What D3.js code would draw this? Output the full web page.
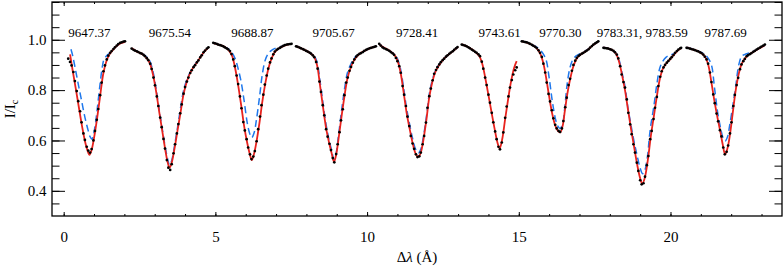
<!DOCTYPE html>
<html>
<head>
<meta charset="utf-8">
<script src="https://cdn.jsdelivr.net/npm/d3@7"></script>
<style>
  body { margin: 0; background: #fff; }
  svg { display: block; font-family: "Liberation Serif", "Times New Roman", serif; }
</style>
</head>
<body>
<div id="espectro"></div>
<script>

// line identifications and where they sit (line centre, in delta lambda)
const lineLabels = ["9647.37", "9675.54", "9688.87", "9705.67", "9728.41", "9743.61", "9770.30", "9783.31, 9783.59", "9787.69"]
const lineCenters = [0.85, 3.5, 6.22, 8.9, 11.65, 14.37, 16.37, 19.07, 21.82]

const xTicks = [0, 5, 10, 15, 20]
const yTicks = [0.4, 0.6, 0.8, 1.0]

// observed profile, one window per line  [delta lambda, I/Ic]
const obsSegments = [
  [[0.15,.925],[0.21,.912],[0.26,.898],[0.32,.872],[0.37,.836],[0.43,.796],[0.48,.756],[0.54,.716],[0.59,.672],[0.65,.628],[0.70,.602],[0.76,.575],[0.81,.56],[0.87,.552],[0.92,.566],[0.98,.60],[1.03,.638],[1.09,.682],[1.14,.725],[1.20,.78],[1.25,.83],[1.31,.875],[1.36,.898],[1.42,.922],[1.47,.937],[1.53,.948],[1.58,.955],[1.64,.963],[1.69,.97],[1.75,.977],[1.80,.983],[1.86,.988],[1.91,.99],[1.97,.993],[2.02,.994]],
  [[2.24,.965],[2.30,.96],[2.35,.957],[2.41,.954],[2.46,.951],[2.52,.947],[2.57,.945],[2.63,.94],[2.68,.935],[2.74,.927],[2.79,.919],[2.85,.905],[2.90,.884],[2.96,.85],[3.01,.819],[3.07,.775],[3.12,.737],[3.18,.691],[3.23,.653],[3.29,.606],[3.34,.568],[3.40,.522],[3.45,.492],[3.51,.483],[3.56,.506],[3.62,.549],[3.67,.585],[3.73,.628],[3.78,.665],[3.84,.708],[3.89,.743],[3.95,.786],[4.00,.812],[4.06,.834],[4.11,.85],[4.17,.868],[4.22,.879],[4.28,.891],[4.33,.899],[4.39,.91],[4.44,.918],[4.50,.93],[4.55,.938],[4.61,.95],[4.66,.957],[4.72,.965],[4.77,.97]],
  [[4.93,.988],[4.98,.986],[5.04,.984],[5.09,.981],[5.15,.979],[5.20,.977],[5.26,.974],[5.31,.97],[5.37,.966],[5.42,.962],[5.48,.955],[5.53,.943],[5.59,.922],[5.64,.895],[5.70,.858],[5.75,.824],[5.81,.775],[5.86,.728],[5.92,.673],[5.97,.64],[6.03,.605],[6.08,.572],[6.14,.545],[6.19,.526],[6.25,.536],[6.30,.558],[6.36,.597],[6.41,.645],[6.47,.695],[6.52,.74],[6.58,.782],[6.63,.822],[6.69,.858],[6.74,.885],[6.80,.91],[6.85,.926],[6.91,.942],[6.96,.953],[7.02,.96],[7.07,.964],[7.13,.968],[7.18,.972],[7.24,.976],[7.29,.979],[7.35,.981],[7.40,.982],[7.46,.983],[7.51,.984]],
  [[7.66,.974],[7.71,.972],[7.77,.969],[7.82,.966],[7.88,.963],[7.93,.96],[7.99,.956],[8.04,.953],[8.10,.949],[8.15,.945],[8.21,.938],[8.26,.931],[8.32,.912],[8.37,.885],[8.43,.834],[8.48,.793],[8.54,.74],[8.59,.70],[8.65,.645],[8.70,.615],[8.76,.587],[8.81,.562],[8.87,.53],[8.92,.513],[8.98,.546],[9.03,.585],[9.09,.633],[9.14,.68],[9.20,.724],[9.25,.78],[9.31,.83],[9.36,.85],[9.42,.877],[9.47,.892],[9.53,.909],[9.58,.922],[9.64,.933],[9.69,.939],[9.75,.944],[9.80,.947],[9.86,.951],[9.91,.956],[9.97,.96],[10.02,.963],[10.08,.966],[10.13,.968],[10.19,.97],[10.24,.972],[10.29,.974]],
  [[10.40,.984],[10.45,.977],[10.51,.97],[10.56,.966],[10.62,.963],[10.67,.96],[10.73,.956],[10.78,.951],[10.84,.946],[10.89,.94],[10.95,.928],[11.00,.915],[11.06,.895],[11.11,.869],[11.17,.816],[11.22,.782],[11.28,.737],[11.33,.695],[11.39,.657],[11.44,.618],[11.50,.588],[11.55,.567],[11.61,.545],[11.66,.534],[11.72,.537],[11.77,.552],[11.83,.585],[11.88,.618],[11.94,.671],[11.99,.73],[12.05,.776],[12.10,.806],[12.16,.839],[12.21,.865],[12.27,.88],[12.32,.891],[12.38,.902],[12.43,.911],[12.49,.919],[12.54,.925],[12.60,.933],[12.65,.938],[12.71,.944],[12.76,.949],[12.82,.954],[12.87,.96],[12.93,.966],[12.98,.971]],
  [[13.12,.981],[13.17,.979],[13.23,.977],[13.28,.974],[13.34,.97],[13.39,.966],[13.45,.961],[13.50,.957],[13.56,.952],[13.61,.948],[13.67,.942],[13.72,.935],[13.78,.913],[13.83,.885],[13.89,.85],[13.94,.82],[14.00,.782],[14.05,.75],[14.11,.71],[14.16,.672],[14.22,.636],[14.27,.605],[14.33,.575],[14.38,.565],[14.44,.592],[14.49,.632],[14.55,.69],[14.60,.735],[14.66,.775],[14.71,.81],[14.77,.84],[14.82,.862],[14.88,.879],[14.93,.89]],
  [[15.10,.994],[15.15,.993],[15.21,.991],[15.26,.99],[15.32,.987],[15.37,.984],[15.43,.98],[15.48,.976],[15.54,.972],[15.59,.967],[15.65,.958],[15.70,.948],[15.76,.932],[15.81,.905],[15.87,.87],[15.92,.83],[15.98,.785],[16.03,.755],[16.09,.72],[16.14,.688],[16.20,.662],[16.25,.648],[16.31,.638],[16.36,.634],[16.42,.648],[16.47,.677],[16.53,.732],[16.58,.77],[16.64,.82],[16.69,.845],[16.75,.877],[16.80,.9],[16.86,.917],[16.91,.928],[16.97,.936],[17.02,.94],[17.08,.945],[17.13,.948],[17.19,.953],[17.24,.957],[17.30,.962],[17.35,.969],[17.41,.975],[17.46,.981],[17.52,.986],[17.57,.99],[17.62,.994]],
  [[17.79,.968],[17.84,.967],[17.90,.966],[17.95,.965],[18.01,.962],[18.06,.96],[18.12,.956],[18.17,.95],[18.23,.941],[18.28,.926],[18.34,.895],[18.39,.862],[18.45,.832],[18.50,.81],[18.56,.763],[18.61,.71],[18.67,.664],[18.72,.625],[18.78,.585],[18.83,.552],[18.89,.512],[18.94,.479],[19.00,.442],[19.05,.426],[19.11,.43],[19.16,.456],[19.22,.502],[19.27,.538],[19.33,.605],[19.38,.638],[19.44,.685],[19.49,.73],[19.55,.773],[19.60,.816],[19.66,.853],[19.71,.875],[19.77,.89],[19.82,.9],[19.88,.909],[19.93,.916],[19.99,.924],[20.04,.931],[20.10,.939],[20.15,.948],[20.21,.955],[20.26,.961],[20.32,.966],[20.35,.968]],
  [[20.53,.968],[20.58,.967],[20.64,.965],[20.69,.963],[20.75,.961],[20.80,.959],[20.86,.956],[20.91,.954],[20.97,.95],[21.02,.947],[21.08,.941],[21.13,.933],[21.19,.922],[21.24,.905],[21.30,.87],[21.35,.832],[21.41,.783],[21.46,.748],[21.52,.707],[21.57,.676],[21.63,.641],[21.68,.616],[21.74,.572],[21.79,.545],[21.85,.555],[21.90,.58],[21.96,.628],[22.01,.672],[22.07,.737],[22.12,.781],[22.18,.82],[22.23,.849],[22.29,.883],[22.34,.902],[22.40,.915],[22.45,.924],[22.51,.935],[22.56,.939],[22.62,.943],[22.67,.947],[22.73,.952],[22.78,.956],[22.84,.961],[22.89,.965],[22.95,.969],[23.00,.973],[23.06,.977],[23.11,.981]]
]

// synthetic fit (red)
const fitSegments = [
  [[0.21,.942],[0.3,.875],[0.4,.805],[0.5,.732],[0.6,.66],[0.7,.598],[0.78,.562],[0.85,.543],[0.92,.562],[1.0,.61],[1.1,.687],[1.2,.775],[1.3,.862],[1.4,.912],[1.5,.94],[1.6,.957],[1.7,.97],[1.8,.98],[1.9,.987],[2.02,.992]],
  [[2.24,.966],[2.4,.954],[2.55,.946],[2.65,.938],[2.75,.925],[2.85,.903],[2.95,.858],[3.05,.792],[3.15,.713],[3.25,.637],[3.35,.562],[3.42,.517],[3.49,.492],[3.56,.512],[3.65,.566],[3.75,.638],[3.85,.71],[3.95,.783],[4.05,.83],[4.15,.863],[4.25,.886],[4.35,.903],[4.45,.921],[4.55,.939],[4.65,.955],[4.77,.969]],
  [[4.93,.988],[5.1,.981],[5.25,.975],[5.35,.968],[5.45,.957],[5.55,.936],[5.65,.888],[5.75,.82],[5.85,.74],[5.95,.655],[6.05,.59],[6.13,.548],[6.2,.522],[6.27,.545],[6.35,.592],[6.45,.668],[6.55,.756],[6.65,.83],[6.75,.887],[6.85,.925],[6.95,.95],[7.1,.966],[7.25,.976],[7.4,.982],[7.52,.984]],
  [[7.66,.975],[7.85,.965],[8.0,.956],[8.15,.945],[8.25,.933],[8.35,.90],[8.45,.818],[8.55,.73],[8.65,.648],[8.75,.59],[8.83,.55],[8.91,.515],[8.98,.543],[9.05,.598],[9.15,.688],[9.25,.772],[9.35,.845],[9.45,.886],[9.55,.914],[9.65,.932],[9.8,.948],[9.95,.958],[10.1,.967],[10.29,.974]],
  [[10.4,.983],[10.5,.973],[10.6,.966],[10.7,.959],[10.8,.951],[10.9,.94],[11.0,.918],[11.1,.872],[11.2,.795],[11.3,.712],[11.4,.648],[11.5,.59],[11.6,.548],[11.69,.535],[11.77,.552],[11.85,.598],[11.95,.678],[12.05,.772],[12.15,.832],[12.25,.872],[12.35,.895],[12.5,.92],[12.65,.938],[12.8,.952],[12.92,.964],[13.0,.972]],
  [[13.12,.982],[13.3,.973],[13.45,.962],[13.6,.948],[13.7,.935],[13.8,.903],[13.9,.845],[14.0,.78],[14.1,.713],[14.2,.648],[14.3,.59],[14.37,.568],[14.45,.603],[14.55,.685],[14.65,.765],[14.75,.838],[14.85,.89],[14.93,.915]],
  [[15.1,.994],[15.25,.99],[15.4,.982],[15.5,.975],[15.6,.965],[15.7,.947],[15.8,.912],[15.9,.85],[16.0,.775],[16.1,.707],[16.2,.66],[16.28,.64],[16.36,.632],[16.44,.655],[16.52,.72],[16.6,.785],[16.7,.848],[16.8,.895],[16.9,.923],[17.0,.938],[17.15,.95],[17.3,.963],[17.45,.979],[17.62,.993]],
  [[17.79,.97],[17.9,.967],[18.0,.963],[18.1,.957],[18.2,.945],[18.3,.915],[18.4,.862],[18.5,.80],[18.6,.722],[18.7,.645],[18.8,.575],[18.9,.505],[19.0,.45],[19.07,.428],[19.15,.45],[19.25,.52],[19.35,.615],[19.45,.695],[19.55,.775],[19.65,.845],[19.75,.885],[19.85,.905],[19.95,.918],[20.05,.932],[20.15,.946],[20.25,.958],[20.35,.966]],
  [[20.53,.97],[20.7,.963],[20.85,.957],[20.95,.952],[21.05,.944],[21.15,.93],[21.25,.898],[21.35,.83],[21.45,.755],[21.55,.69],[21.65,.63],[21.72,.585],[21.8,.545],[21.88,.57],[21.95,.615],[22.05,.708],[22.15,.80],[22.25,.865],[22.35,.905],[22.45,.925],[22.6,.942],[22.75,.953],[22.9,.964],[23.11,.978]]
]

// second model (blue dashed), none for the 9743.61 window
const altSegments = [
  [[0.24,.962],[0.3,.935],[0.4,.874],[0.5,.812],[0.6,.752],[0.7,.692],[0.8,.643],[0.87,.615],[0.93,.605],[0.98,.622],[1.05,.67],[1.12,.74],[1.2,.825],[1.27,.89],[1.33,.922],[1.42,.937],[1.5,.945],[1.6,.957],[1.7,.97],[1.8,.98],[1.9,.987],[2.02,.992]],
  [[2.24,.966],[2.4,.955],[2.55,.947],[2.65,.94],[2.75,.93],[2.85,.912],[2.95,.87],[3.05,.802],[3.15,.722],[3.25,.645],[3.35,.572],[3.42,.53],[3.49,.502],[3.56,.52],[3.65,.577],[3.75,.65],[3.85,.728],[3.95,.798],[4.05,.838],[4.15,.867],[4.25,.888],[4.35,.905],[4.45,.922],[4.55,.939],[4.65,.955],[4.77,.969]],
  [[4.93,.988],[5.1,.981],[5.25,.975],[5.35,.969],[5.45,.962],[5.55,.948],[5.65,.925],[5.75,.885],[5.85,.832],[5.95,.755],[6.05,.67],[6.13,.628],[6.2,.611],[6.28,.632],[6.35,.68],[6.45,.768],[6.55,.865],[6.65,.922],[6.75,.946],[6.85,.958],[6.95,.965],[7.1,.97],[7.25,.976],[7.4,.982],[7.52,.984]],
  [[7.66,.975],[7.85,.965],[8.0,.956],[8.15,.946],[8.25,.937],[8.35,.912],[8.45,.835],[8.55,.745],[8.65,.662],[8.75,.60],[8.83,.562],[8.91,.524],[8.98,.55],[9.05,.612],[9.15,.71],[9.25,.80],[9.35,.868],[9.45,.9],[9.55,.922],[9.65,.936],[9.8,.948],[9.95,.958],[10.1,.967],[10.29,.974]],
  [[10.4,.983],[10.5,.973],[10.6,.966],[10.7,.959],[10.8,.952],[10.9,.942],[11.0,.925],[11.1,.885],[11.2,.812],[11.3,.73],[11.4,.665],[11.5,.608],[11.6,.565],[11.69,.55],[11.77,.565],[11.85,.61],[11.95,.69],[12.05,.785],[12.15,.84],[12.25,.877],[12.35,.898],[12.5,.921],[12.65,.938],[12.8,.952],[12.92,.964],[13.0,.972]],
  null,
  [[15.1,.994],[15.25,.99],[15.4,.983],[15.5,.977],[15.6,.97],[15.7,.96],[15.8,.945],[15.9,.92],[16.0,.85],[16.1,.76],[16.2,.69],[16.28,.658],[16.36,.648],[16.44,.665],[16.52,.735],[16.6,.83],[16.7,.895],[16.8,.925],[16.9,.937],[17.0,.944],[17.15,.952],[17.3,.964],[17.45,.979],[17.62,.993]],
  [[17.79,.97],[17.9,.967],[18.0,.963],[18.1,.957],[18.2,.947],[18.3,.922],[18.4,.87],[18.5,.815],[18.6,.728],[18.7,.66],[18.8,.595],[18.9,.54],[19.0,.49],[19.08,.468],[19.15,.48],[19.25,.545],[19.3,.61],[19.35,.66],[19.45,.735],[19.55,.823],[19.65,.889],[19.75,.915],[19.85,.93],[19.95,.938],[20.05,.942],[20.15,.948],[20.25,.958],[20.35,.966]],
  [[20.53,.97],[20.7,.964],[20.85,.958],[20.95,.954],[21.05,.948],[21.15,.94],[21.25,.925],[21.35,.9],[21.45,.81],[21.55,.715],[21.65,.65],[21.72,.615],[21.8,.598],[21.88,.615],[21.95,.66],[22.05,.735],[22.15,.815],[22.25,.9],[22.35,.935],[22.45,.942],[22.6,.948],[22.75,.955],[22.9,.964],[23.11,.978]]
]


function drawSpectrum(container){

  const width = 784
  const height = 268
  const margin = ({top: 2, right: 2, bottom: 52, left: 52})

  const x = d3.scaleLinear()
    .domain([-0.385, 23.675])
    .range([margin.left, width - margin.right])

  const y = d3.scaleLinear()
    .domain([0.3, 1.15])
    .range([height - margin.bottom, margin.top])

  const svg = d3.select(container).append("svg")
      .attr("width", width)
      .attr("height", height)
      .attr("viewBox", [0, 0, width, height])
      .style("background", "#fff")

  const xMinor = d3.range(0, 24, 1)
  const yMinor = d3.range(0.35, 1.151, 0.05)

  // ticks go inwards on all four sides (idl style)
  const fixAxis = g => g
      .attr("font-family", null)
      .attr("font-size", 15)
      .call(g => g.select(".domain").remove())

  svg.append("g")
      .attr("transform", `translate(0,${height - margin.bottom})`)
      .call(d3.axisBottom(x).tickValues(xMinor).tickSize(-2).tickFormat(""))
      .call(fixAxis)
  svg.append("g")
      .attr("transform", `translate(0,${height - margin.bottom})`)
      .call(d3.axisBottom(x).tickValues(xTicks).tickSize(-4).tickPadding(15).tickFormat(d3.format("d")))
      .call(fixAxis)
  svg.append("g")
      .attr("transform", `translate(0,${margin.top})`)
      .call(d3.axisTop(x).tickValues(xMinor).tickSize(-2).tickFormat(""))
      .call(fixAxis)
  svg.append("g")
      .attr("transform", `translate(0,${margin.top})`)
      .call(d3.axisTop(x).tickValues(xTicks).tickSize(-4).tickFormat(""))
      .call(fixAxis)

  svg.append("g")
      .attr("transform", `translate(${margin.left},0)`)
      .call(d3.axisLeft(y).tickValues(yMinor).tickSize(-7.5).tickFormat(""))
      .call(fixAxis)
  svg.append("g")
      .attr("transform", `translate(${margin.left},0)`)
      .call(d3.axisLeft(y).tickValues(yTicks).tickSize(-13).tickPadding(5.5).tickFormat(d3.format(".1f")))
      .call(fixAxis)
  svg.append("g")
      .attr("transform", `translate(${width - margin.right},0)`)
      .call(d3.axisRight(y).tickValues(yMinor).tickSize(-7.5).tickFormat(""))
      .call(fixAxis)
  svg.append("g")
      .attr("transform", `translate(${width - margin.right},0)`)
      .call(d3.axisRight(y).tickValues(yTicks).tickSize(-13).tickFormat(""))
      .call(fixAxis)

  svg.append("rect")
      .attr("x", margin.left)
      .attr("y", margin.top)
      .attr("width", width - margin.left - margin.right)
      .attr("height", height - margin.top - margin.bottom)
      .attr("fill", "none")
      .attr("stroke", "#000")
      .attr("stroke-width", 1.3)

  const line = d3.line()
      .x(d => x(d[0]))
      .y(d => y(d[1]))
      .curve(d3.curveCatmullRom.alpha(0.5))

  svg.append("g")
      .attr("fill", "none")
      .attr("stroke", "#1f78ec")
      .attr("stroke-width", 1.5)
      .attr("stroke-dasharray", "7,4")
    .selectAll("path")
    .data(altSegments.filter(s => s))
    .join("path")
      .attr("d", line)

  svg.append("g")
      .attr("fill", "none")
      .attr("stroke", "#e8231e")
      .attr("stroke-width", 1.8)
    .selectAll("path")
    .data(fitSegments)
    .join("path")
      .attr("d", line)

  svg.append("g")
      .attr("fill", "#000")
    .selectAll("circle")
    .data(obsSegments.flat())
    .join("circle")
      .attr("cx", d => x(d[0]))
      .attr("cy", d => y(d[1]))
      .attr("r", 1.35)

  svg.append("g")
      .attr("font-size", 13)
      .attr("text-anchor", "middle")
    .selectAll("text")
    .data(lineLabels)
    .join("text")
      .attr("x", (d, i) => x(lineCenters[i]))
      .attr("y", y(1.0) - 3)
      .text(d => d)

  // axis titles
  const xt = svg.append("text")
      .attr("x", (margin.left + width - margin.right) / 2)
      .attr("y", 262)
      .attr("text-anchor", "middle")
      .attr("font-size", 15)
  xt.append("tspan").text("Δ")
  xt.append("tspan").attr("font-style", "italic").text("λ")
  xt.append("tspan").text(" (Å)")

  const yt = svg.append("text")
      .attr("transform", `translate(15,${(margin.top + height - margin.bottom) / 2}) rotate(-90)`)
      .attr("text-anchor", "middle")
      .attr("font-size", 15)
  yt.append("tspan").text("I/I")
  yt.append("tspan").attr("font-size", 10).attr("dy", 3).text("c")

  return svg
}

var grafico = drawSpectrum("#espectro")
</script>
</body>
</html>
